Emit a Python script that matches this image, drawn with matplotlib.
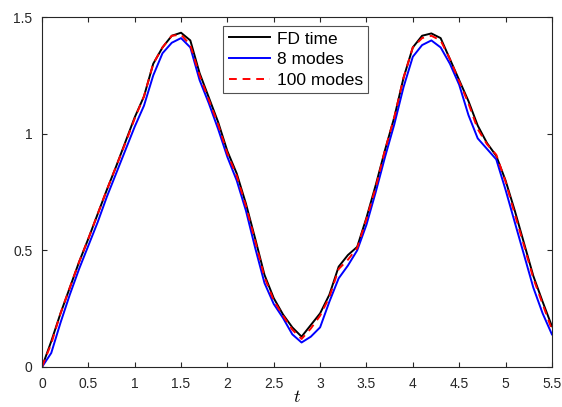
import matplotlib
matplotlib.use('Agg')
import matplotlib.pyplot as plt
import numpy as np

plt.rcParams['font.family'] = ['Liberation Sans', 'DejaVu Sans']
plt.rcParams['mathtext.fontset'] = 'cm'

# time grid and the three read-off series
t = np.round(np.arange(0, 5.51, 0.1), 2)

fd_time = [0.00, 0.11, 0.23, 0.34, 0.45, 0.55, 0.655, 0.76, 0.86, 0.965,
           1.07, 1.16, 1.30, 1.37, 1.42, 1.433, 1.40, 1.26, 1.155, 1.05,
           0.925, 0.83, 0.70, 0.55, 0.395, 0.295, 0.225, 0.17, 0.13, 0.18,
           0.23, 0.31, 0.43, 0.48, 0.515, 0.64, 0.78, 0.93, 1.07, 1.24,
           1.37, 1.42, 1.43, 1.41, 1.32, 1.23, 1.14, 1.035, 0.96, 0.905,
           0.80, 0.67, 0.53, 0.39, 0.28, 0.175]

modes_8 = [0.00, 0.06, 0.19, 0.31, 0.42, 0.52, 0.62, 0.73, 0.83, 0.93,
           1.03, 1.12, 1.25, 1.345, 1.39, 1.41, 1.37, 1.23, 1.13, 1.02,
           0.90, 0.80, 0.67, 0.51, 0.36, 0.27, 0.21, 0.14, 0.105, 0.13,
           0.17, 0.28, 0.38, 0.435, 0.50, 0.61, 0.75, 0.90, 1.04, 1.20,
           1.33, 1.38, 1.40, 1.37, 1.30, 1.21, 1.08, 0.98, 0.935, 0.89,
           0.76, 0.62, 0.48, 0.34, 0.23, 0.14]

modes_100 = [0.00, 0.10, 0.23, 0.34, 0.45, 0.55, 0.655, 0.76, 0.86, 0.96,
             1.065, 1.16, 1.30, 1.37, 1.42, 1.425, 1.38, 1.25, 1.145, 1.04,
             0.915, 0.82, 0.69, 0.54, 0.385, 0.285, 0.22, 0.16, 0.12, 0.165,
             0.22, 0.30, 0.42, 0.46, 0.51, 0.635, 0.77, 0.93, 1.07, 1.24,
             1.37, 1.41, 1.42, 1.40, 1.32, 1.225, 1.13, 1.02, 0.955, 0.91,
             0.795, 0.655, 0.52, 0.38, 0.27, 0.16]

fig = plt.figure(figsize=(5.62, 4.07), dpi=100)
ax = fig.add_axes([0.0747, 0.0983, 0.9073, 0.8597])

ax.plot(t, fd_time, color='black', lw=1.4, label='FD time')
ax.plot(t, modes_8, color='blue', lw=1.4, label='8 modes')
ax.plot(t, modes_100, color='red', lw=1.4, ls=(0, (4, 3)), label='100 modes')

ax.set_xlim(0, 5.5)
ax.set_ylim(0, 1.5)
ax.set_xticks(np.arange(0, 5.51, 0.5))
ax.set_xticklabels(['0', '0.5', '1', '1.5', '2', '2.5', '3', '3.5', '4', '4.5', '5', '5.5'])
ax.set_yticks([0, 0.5, 1, 1.5])
ax.set_yticklabels(['0', '0.5', '1', '1.5'])

ax.tick_params(direction='in', top=True, right=True, length=3.6,
               labelsize=10, colors='#262626', width=0.8)
ax.tick_params(axis='x', pad=7)
ax.tick_params(axis='y', pad=7)
for s in ax.spines.values():
    s.set_color('#262626')
    s.set_linewidth(0.8)

ax.set_xlabel('$t$', fontsize=13, labelpad=-1)

leg = ax.legend(loc='upper center', bbox_to_anchor=(0.498, 0.974), fontsize=12.5,
                frameon=True, fancybox=False, edgecolor='#262626',
                handlelength=2.4, borderpad=0.3, labelspacing=0.32,
                handletextpad=0.4, borderaxespad=0.0)
leg.get_frame().set_linewidth(0.8)

fig.savefig('out.png', dpi=100)
